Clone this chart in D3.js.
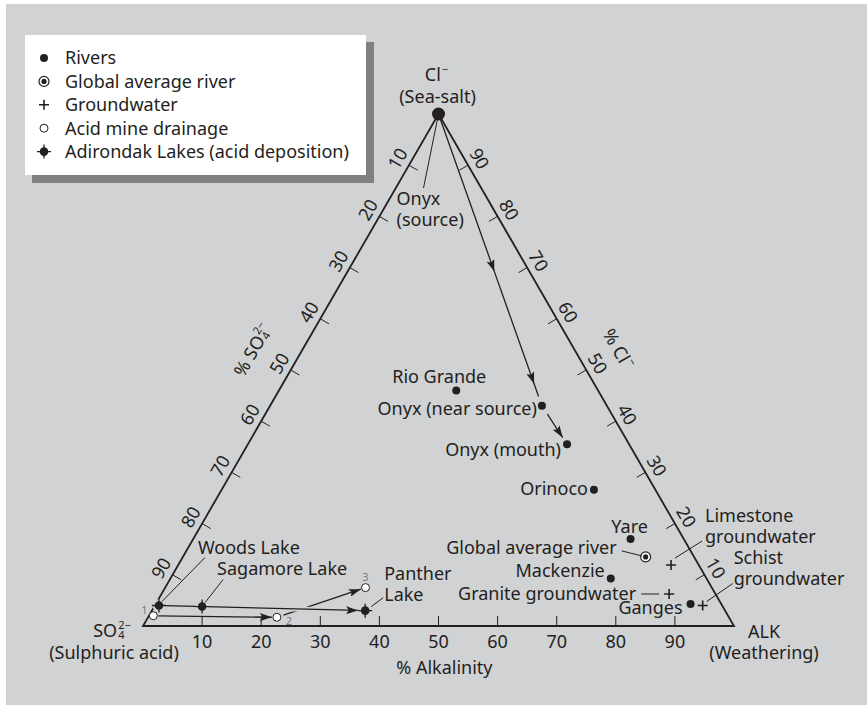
<!DOCTYPE html>
<html>
<head>
<meta charset="utf-8">
<script src="https://cdn.jsdelivr.net/npm/d3@7"></script>
<style>
  body { margin: 0; background: #fff; }
  text { font-family: "Noto Sans", "Open Sans", sans-serif; font-size: 18px; fill: #231f20; }
</style>
</head>
<body>
<div id="chart"></div>
<script>
// compositions in %: alkalinity and chloride (sulphate is the rest)
var riverNames = ["Rio Grande", "Onyx (near source)", "Onyx (mouth)", "Orinoco", "Yare", "Mackenzie", "Ganges"];
var riverAlk = [30, 46, 54, 63, 74, 74.5, 90.5];
var riverCl = [46, 43, 35.5, 26.6, 17, 9.3, 4.3];

var globalAvg = {name: "Global average river", alk: 78.3, cl: 13.5};
var seaSalt = {name: "Onyx (source)", alk: 0, cl: 100};

var groundNames = ["Limestone groundwater", "Granite groundwater", "Schist groundwater"];
var groundAlk = [83.4, 85.9, 92.7];
var groundCl = [11.9, 6.25, 4.0];

var mineNames = ["1", "2", "3"];
var mineAlk = [0.75, 21.8, 33.9];
var mineCl = [2.0, 1.7, 7.5];

var lakeNames = ["Woods Lake", "Sagamore Lake", "Panther Lake"];
var lakeAlk = [0.7, 8.1, 36.1];
var lakeCl = [4.0, 3.8, 3.0];

var tickValues = [10, 20, 30, 40, 50, 60, 70, 80, 90];

var legendNames = ["Rivers", "Global average river", "Groundwater", "Acid mine drainage", "Adirondak Lakes (acid deposition)"];
var legendKinds = ["river", "global", "ground", "mine", "lake"];

var W = 867, H = 705;
var bg = "#d1d2d4", ink = "#231f20";

var svg = d3.select("#chart").append("svg")
  .attr("width", W)
  .attr("height", H);

svg.append("rect")
  .attr("x", 6).attr("y", 4)
  .attr("width", W - 6).attr("height", H - 4)
  .attr("fill", bg);

var defs = svg.append("defs");
defs.append("marker")
  .attr("id", "arrow")
  .attr("viewBox", "0 0 12 8")
  .attr("refX", 12).attr("refY", 4)
  .attr("markerWidth", 12).attr("markerHeight", 8)
  .attr("markerUnits", "userSpaceOnUse")
  .attr("orient", "auto")
  .append("path")
  .attr("d", "M0,0L12,4L0,8L2.5,4Z")
  .attr("fill", ink);

// ternary projection: x from alk + cl/2, y from cl
var x = d3.scaleLinear().domain([0, 100]).range([143, 734]);
var y = d3.scaleLinear().domain([0, 100]).range([626, 114]);
function pt(alk, cl) { return [x(alk + cl / 2), y(cl)]; }

function zip(names, alk, cl) {
  return names.map(function(n, i) { return {name: n, alk: alk[i], cl: cl[i]}; });
}
var rivers = zip(riverNames, riverAlk, riverCl);
var grounds = zip(groundNames, groundAlk, groundCl);
var mines = zip(mineNames, mineAlk, mineCl);
var lakes = zip(lakeNames, lakeAlk, lakeCl);

// triangle
var corners = [pt(0, 0), pt(100, 0), pt(0, 100)];
svg.append("path")
  .attr("d", "M" + corners.join("L") + "Z")
  .attr("fill", "none")
  .attr("stroke", ink)
  .attr("stroke-width", 1.8)
  .attr("stroke-linejoin", "miter");

var axes = svg.append("g").attr("stroke", ink).attr("stroke-width", 1);
var c30 = Math.cos(Math.PI / 6), s30 = 0.5;

// bottom: % alkalinity
tickValues.forEach(function(t) {
  var p = pt(t, 0);
  axes.append("line").attr("x1", p[0]).attr("y1", p[1]).attr("x2", p[0]).attr("y2", p[1] - 10);
  svg.append("text").attr("x", p[0]).attr("y", p[1] + 16).attr("dy", "0.35em")
    .attr("text-anchor", "middle").text(t);
});
// left: % SO4 (0 at top)
tickValues.forEach(function(t) {
  var p = pt(0, 100 - t);
  axes.append("line").attr("x1", p[0]).attr("y1", p[1])
    .attr("x2", p[0] + 10 * c30).attr("y2", p[1] + 10 * s30);
  var lx = p[0] - 13 * c30, ly = p[1] - 13 * s30;
  svg.append("text").attr("transform", "translate(" + lx + "," + ly + ") rotate(-60)")
    .attr("dy", "0.35em").attr("text-anchor", "middle").text(t);
});
// right: % Cl (100 at top)
tickValues.forEach(function(t) {
  var p = pt(100 - t, t);
  axes.append("line").attr("x1", p[0]).attr("y1", p[1])
    .attr("x2", p[0] - 10 * c30).attr("y2", p[1] + 10 * s30);
  var lx = p[0] + 13 * c30, ly = p[1] - 13 * s30;
  svg.append("text").attr("transform", "translate(" + lx + "," + ly + ") rotate(60)")
    .attr("dy", "0.35em").attr("text-anchor", "middle").text(t);
});

// label with stacked super/subscript, centred on (cx, cy)
function chem(cx, cy, rot, base, sup, sub) {
  var g = svg.append("g").attr("transform", "translate(" + cx + "," + cy + ") rotate(" + rot + ")");
  var inner = g.append("g");
  var t = inner.append("text").attr("dy", "0.35em").text(base);
  var w = t.node().getComputedTextLength();
  var sw = 0;
  if (sup) {
    var s = inner.append("text").attr("x", w + 1).attr("y", -2).style("font-size", "11px").text(sup);
    sw = s.node().getComputedTextLength();
  }
  if (sub) {
    var b = inner.append("text").attr("x", w + 1).attr("y", 8).style("font-size", "11px").text(sub);
    sw = Math.max(sw, b.node().getComputedTextLength());
  }
  inner.attr("transform", "translate(" + (-(w + 1 + sw) / 2) + ",0)");
}

function label(cx, cy, str, anchor) {
  return svg.append("text").attr("x", cx).attr("y", cy).attr("dy", "0.35em")
    .attr("text-anchor", anchor || "middle").text(str);
}

// vertex and axis titles
var apex = pt(0, 100), left = pt(0, 0), right = pt(100, 0);
chem(apex[0] - 2, apex[1] - 39, 0, "Cl", "\u2212", null);
label(apex[0] - 1, apex[1] - 17, "(Sea-salt)");
chem(left[0] - 31, left[1] + 5, 0, "SO", "2\u2212", "4");
label(left[0] - 29, left[1] + 27, "(Sulphuric acid)");
label(right[0] + 30, right[1] + 6, "ALK");
label(right[0] + 30, right[1] + 27, "(Weathering)");
label(x(51), y(0) + 42, "% Alkalinity");
var lm = pt(0, 50), rm = pt(50, 50);
chem(lm[0] - 38, lm[1] - 20, -60, "% SO", "2\u2212", "4");
chem(rm[0] + 32, rm[1] - 21, 60, "% Cl", "\u2212", null);

// arrows
function arrowPath(pts, gap0, gap1) {
  var a = pts[0], b = pts[pts.length - 1];
  var dx = b[0] - a[0], dy = b[1] - a[1], L = Math.hypot(dx, dy);
  var ux = dx / L, uy = dy / L;
  var out = pts.slice();
  out[0] = [a[0] + ux * gap0, a[1] + uy * gap0];
  out[out.length - 1] = [b[0] - ux * gap1, b[1] - uy * gap1];
  return out;
}
function along(a, b, f) { return [a[0] + (b[0] - a[0]) * f, a[1] + (b[1] - a[1]) * f]; }

var arrows = svg.append("g").attr("fill", "none").attr("stroke", ink).attr("stroke-width", 1.3);

var pSrc = pt(seaSalt.alk, seaSalt.cl), pNear = pt(rivers[1].alk, rivers[1].cl), pMouth = pt(rivers[2].alk, rivers[2].cl);
var onyx = arrowPath([pSrc, along(pSrc, pNear, 0.54), along(pSrc, pNear, 0.925), pNear], 0, 10);
arrows.append("path").attr("d", d3.line()(onyx)).attr("marker-mid", "url(#arrow)");
arrows.append("path").attr("d", d3.line()(arrowPath([pNear, pMouth], 10, 8))).attr("marker-end", "url(#arrow)");

var m1 = pt(mines[0].alk, mines[0].cl), m2 = pt(mines[1].alk, mines[1].cl), m3 = pt(mines[2].alk, mines[2].cl);
arrows.append("path").attr("d", d3.line()(arrowPath([m1, m2], 5, 5))).attr("marker-end", "url(#arrow)");
arrows.append("path").attr("d", d3.line()(arrowPath([m2, m3], 7, 5))).attr("marker-end", "url(#arrow)");

var l1 = pt(lakes[0].alk, lakes[0].cl), l3 = pt(lakes[2].alk, lakes[2].cl);
var lakeLine = arrowPath([l1, l3], 6, 7);
arrows.append("path").attr("d", d3.line()(lakeLine)).attr("stroke", bg).attr("stroke-width", 5);
arrows.append("path").attr("d", d3.line()(lakeLine)).attr("marker-end", "url(#arrow)");

// symbols
function symbol(g, kind, cx, cy) {
  if (kind === "river") {
    g.append("circle").attr("cx", cx).attr("cy", cy).attr("r", 4).attr("fill", ink);
  } else if (kind === "global") {
    g.append("circle").attr("cx", cx).attr("cy", cy).attr("r", 5).attr("fill", "#fff").attr("stroke", ink).attr("stroke-width", 1.2);
    g.append("circle").attr("cx", cx).attr("cy", cy).attr("r", 2.6).attr("fill", ink);
  } else if (kind === "ground") {
    g.append("path").attr("d", "M" + (cx - 5) + "," + cy + "h10M" + cx + "," + (cy - 5) + "v10")
      .attr("stroke", ink).attr("stroke-width", 1.6);
  } else if (kind === "mine") {
    g.append("circle").attr("cx", cx).attr("cy", cy).attr("r", 4).attr("fill", "#fff").attr("stroke", ink).attr("stroke-width", 1);
  } else if (kind === "lake") {
    g.append("circle").attr("cx", cx).attr("cy", cy).attr("r", 6.5).attr("fill", g.attr("data-halo") || bg);
    g.append("path").attr("d", "M" + (cx - 7) + "," + cy + "h14M" + cx + "," + (cy - 7) + "v14")
      .attr("stroke", ink).attr("stroke-width", 1.3);
    g.append("circle").attr("cx", cx).attr("cy", cy).attr("r", 4.3).attr("fill", ink);
  }
}

// leader lines and labels; offsets are relative to each point
var layout = {
  "Rio Grande": {dx: -17, dy: -14, anchor: "middle"},
  "Onyx (near source)": {dx: -5, dy: 3, anchor: "end"},
  "Onyx (mouth)": {dx: -6, dy: 5, anchor: "end"},
  "Orinoco": {dx: -6, dy: -1, anchor: "end"},
  "Yare": {dx: -1, dy: -12, anchor: "middle"},
  "Mackenzie": {dx: -6, dy: -8, anchor: "end"},
  "Ganges": {dx: -8, dy: 4, anchor: "end"},
  "Global average river": {dx: -29, dy: -9, anchor: "end", lead: [-24, -6, -4, -1]},
  "Limestone groundwater": {dx: 34, dy: -49, anchor: "start", lines: ["Limestone", "groundwater"], lead: [4, -7, 31, -24]},
  "Granite groundwater": {dx: -33, dy: 0, anchor: "end", lead: [-28, 0, -10, 0]},
  "Schist groundwater": {dx: 31, dy: -48, anchor: "start", lines: ["Schist", "groundwater"], lead: [4, -4, 30, -22]},
  "Woods Lake": {dx: 39, dy: -58, anchor: "start", lead: [3, -4, 46, -48]},
  "Sagamore Lake": {dx: 15, dy: -38, anchor: "start", lead: [3, -4, 21, -27]},
  "Panther Lake": {dx: 19, dy: -37, anchor: "start", lines: ["Panther", "Lake"], lead: [6, -4, 18, -13]},
  "Onyx (source)": {dx: -42, dy: 85, anchor: "start", lines: ["Onyx", "(source)"], lead: [0, 0, -15, 74]},
  "1": {dx: -9, dy: -6}, "2": {dx: 12, dy: 4}, "3": {dx: 0, dy: -10}
};

function annotate(d, p) {
  var o = layout[d.name];
  if (o.lead) {
    svg.append("line")
      .attr("x1", p[0] + o.lead[0]).attr("y1", p[1] + o.lead[1])
      .attr("x2", p[0] + o.lead[2]).attr("y2", p[1] + o.lead[3])
      .attr("stroke", ink).attr("stroke-width", 1);
  }
  var lines = o.lines || [d.name];
  lines.forEach(function(s, i) {
    label(p[0] + o.dx, p[1] + o.dy + i * 21, s, o.anchor);
  });
}

var marks = svg.append("g");
rivers.forEach(function(d) { var p = pt(d.alk, d.cl); symbol(marks, "river", p[0], p[1]); annotate(d, p); });
(function() { var p = pt(globalAvg.alk, globalAvg.cl); symbol(marks, "global", p[0], p[1]); annotate(globalAvg, p); })();
grounds.forEach(function(d) { var p = pt(d.alk, d.cl); symbol(marks, "ground", p[0], p[1]); annotate(d, p); });
lakes.forEach(function(d) { var p = pt(d.alk, d.cl); symbol(marks, "lake", p[0], p[1]); annotate(d, p); });
mines.forEach(function(d) {
  var p = pt(d.alk, d.cl);
  symbol(marks, "mine", p[0], p[1]);
  var o = layout[d.name];
  svg.append("text").attr("x", p[0] + o.dx).attr("y", p[1] + o.dy).attr("dy", "0.35em")
    .attr("text-anchor", "middle").style("font-size", "11px").style("fill", "#7a7a7a").text(d.name);
});
(function() {
  var p = pt(seaSalt.alk, seaSalt.cl);
  annotate(seaSalt, p);
  marks.append("circle").attr("cx", p[0]).attr("cy", p[1]).attr("r", 6.5).attr("fill", ink);
})();

// legend
var lg = svg.append("g").attr("data-halo", "#fff");
lg.append("rect").attr("x", 32).attr("y", 42).attr("width", 342).attr("height", 141).attr("fill", "#808080");
lg.append("rect").attr("x", 25).attr("y", 35).attr("width", 341).attr("height", 140).attr("fill", "#fff");
legendNames.forEach(function(n, i) {
  var cy = 58 + i * 23.4;
  symbol(lg, legendKinds[i], 44, cy);
  lg.append("text").attr("x", 65).attr("y", cy).attr("dy", "0.35em").text(n);
});
</script>
</body>
</html>
